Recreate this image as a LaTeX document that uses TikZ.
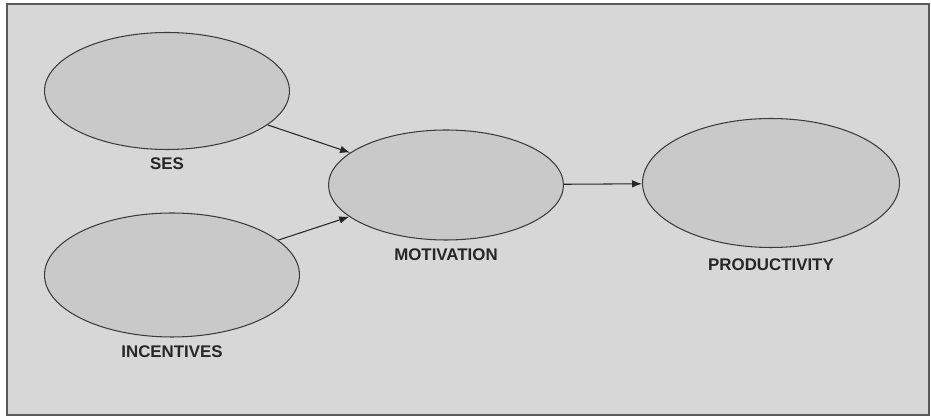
\documentclass[tikz,border=0pt]{standalone}
\usepackage{fontspec}
\setmainfont{Liberation Sans}
\usetikzlibrary{shapes.geometric,arrows.meta}

\definecolor{panel}{RGB}{215,215,215}
\definecolor{bubble}{RGB}{201,201,201}
\definecolor{rim}{RGB}{60,60,60}

\begin{document}
\begin{tikzpicture}[x=0.02cm, y=-0.02cm,
  latent/.style={ellipse, draw=rim, fill=bubble, line width=0.6pt, inner sep=0pt},
  every label/.style={font=\bfseries\fontsize{9.6}{11}\selectfont, text=black!85, inner sep=0pt},
  label distance=0.15cm,
  link/.style={-{Latex[length=2mm,width=1.5mm]}, line width=0.6pt, draw=black!85}]
  \useasboundingbox (0,0) rectangle (931,418);
  \fill[white] (0,0) rectangle (931,418);
  \draw[fill=panel, draw=black!65, line width=1.3pt] (7,4) rectangle (929,415);

  % the four constructs
  \node[latent, minimum width=4.90cm, minimum height=2.34cm, label=below:SES] (ses) at (167,91) {};
  \node[latent, minimum width=5.10cm, minimum height=2.48cm, label=below:INCENTIVES] (inc) at (172,275) {};
  \node[latent, minimum width=4.70cm, minimum height=2.20cm, label=below:MOTIVATION] (mot) at (446,185) {};
  \node[latent, minimum width=5.14cm, minimum height=2.58cm, label={[label distance=0.2cm]below:PRODUCTIVITY}] (prod) at (771,183) {};

  \draw[link] (ses) -- (mot);
  \draw[link] (inc) -- (mot);
  \draw[link] (mot) -- (prod);
\end{tikzpicture}
\end{document}
